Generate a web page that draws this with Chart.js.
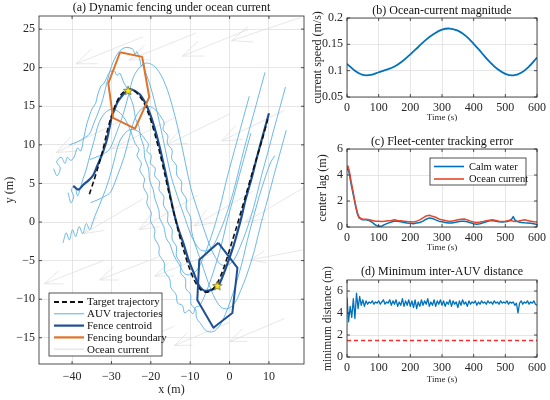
<!DOCTYPE html>
<html>
<head>
<meta charset="utf-8">
<script src="https://cdn.jsdelivr.net/npm/chart.js@4.4.1/dist/chart.umd.min.js"></script>
<style>
  html, body { margin: 0; padding: 0; background: #fff; }
  #wrap { position: relative; width: 550px; height: 400px; overflow: hidden; background: #fff; }
  canvas { position: absolute; }
</style>
</head>
<body>
<div id="wrap">
  <canvas id="chartA" width="310" height="400" style="left:0px;top:0px"></canvas>
  <canvas id="chartB" width="255" height="130" style="left:295px;top:0px"></canvas>
  <canvas id="chartC" width="255" height="130" style="left:295px;top:130px"></canvas>
  <canvas id="chartD" width="255" height="140" style="left:295px;top:260px"></canvas>
</div>
<script>
// ---------- (a) trajectories (x, y in metres) ----------
const targetPath = [
  [-35.6,3.6],[-34.5,5.3],[-33.3,7.3],[-32.2,9.3],[-31.2,11.5],[-30.2,13.4],[-29.2,14.9],[-28.0,16.2],
  [-26.8,16.9],[-25.6,17.2],[-24.3,17.0],[-23.0,16.4],[-21.8,15.5],[-20.7,14.2],[-19.7,12.7],[-18.7,10.9],
  [-17.6,8.7],[-16.5,6.3],[-15.4,3.8],[-14.2,1.3],[-13.0,-1.2],[-11.7,-3.6],[-10.4,-5.7],[-9.0,-7.5],
  [-7.5,-8.7],[-6.0,-9.1],[-4.5,-8.8],[-3.1,-7.9],[-1.8,-6.4],[-0.6,-4.6],[0.6,-2.6],[1.8,-0.6],
  [3.0,1.5],[4.3,3.8],[5.6,6.1],[7.0,8.5],[8.4,10.9],[9.7,13.3]
];
const fenceCentroid = [
  [-39.7,4.7],[-38.4,4.2],[-37.2,4.8],[-35.8,5.4],[-34.6,6.1],[-33.6,7.3],[-32.9,8.1],[-32.0,9.3],
  [-31.2,10.6],[-30.5,12.2],[-29.9,13.7],[-29.2,14.6],[-28.6,15.4],[-27.7,16.1],[-26.9,16.6],[-26.0,17.0],
  [-25.2,17.2],[-24.0,17.0],[-22.7,16.5],[-21.8,15.8],[-21.0,15.0],[-20.2,14.0],[-19.4,12.8],[-18.6,11.4],
  [-17.7,9.6],[-16.8,7.6],[-15.9,5.5],[-15.0,3.2],[-14.0,0.9],[-13.0,-0.9],[-11.7,-2.8],[-10.5,-4.8],
  [-9.1,-6.6],[-8.2,-7.8],[-7.4,-8.5],[-6.4,-8.9],[-5.4,-8.9],[-4.2,-8.7],[-2.8,-8.2],[-1.5,-6.7],
  [-0.2,-4.9],[1.0,-3.1],[1.9,-1.5],[3.0,0.6],[4.0,2.8],[5.5,5.5],[7.0,8.5],[8.5,11.3],[10.0,14.1]
];
const auvTop = [
  [-40.7,10.0],[-38.6,10.4],[-36.9,10.9],[-35.6,11.4],[-34.4,12.9],[-33.2,14.4],[-32.2,15.9],[-31.0,18.4],
  [-29.6,20.7],[-28.0,22.1],[-26.5,22.6],[-24.6,22.4],[-24.0,21.6],[-23.6,22.1],[-22.8,21.1],[-22.4,20.2],
  [-21.8,20.5],[-21.4,19.5],[-20.4,18.1],[-19.1,15.7],[-17.8,12.9],[-16.4,9.6],[-15.0,6.2],[-13.8,4.2],
  [-12.7,2.5],[-11.4,0.6],[-10.1,-1.3],[-8.8,-2.7],[-7.4,-3.6],[-5.8,-3.7],[-4.1,-3.0],[-2.6,-1.4],
  [-1.2,0.4],[-0.1,2.1],[0.9,3.8],[2.0,6.0],[3.0,8.1],[4.5,11.0],[6.0,13.8],[7.5,16.6],[9.0,19.4]
];
const auvUpperRight = [
  [-35.5,8.1],[-33.4,8.5],[-31.8,8.9],[-30.4,9.5],[-28.7,11.6],[-27.0,14.0],[-25.6,16.6],[-24.4,18.8],
  [-22.9,20.0],[-21.3,20.6],[-19.4,20.3],[-17.6,19.2],[-16.3,17.8],[-15.2,16.2],[-13.9,13.8],[-12.6,11.0],
  [-11.2,7.6],[-9.8,4.3],[-8.6,2.3],[-7.5,0.6],[-6.2,-1.4],[-4.9,-3.2],[-3.6,-4.6],[-2.2,-5.5],
  [-0.5,-5.6],[1.1,-4.9],[2.6,-3.3],[4.0,-1.5],[5.1,0.2],[6.1,1.9],[7.1,3.9],[8.2,6.2],
  [9.7,9.0],[11.2,11.9],[12.7,14.7],[14.2,17.5]
];
const auvLowerRight = [
  [-35.3,2.5],[-33.4,2.9],[-31.8,3.3],[-30.2,3.9],[-28.5,6.0],[-26.8,8.4],[-25.5,10.9],[-24.2,13.2],
  [-22.7,14.5],[-21.1,15.0],[-19.2,14.7],[-17.4,13.6],[-16.6,12.8],[-16.9,12.0],[-15.7,11.2],[-15.8,10.2],
  [-14.6,9.3],[-14.7,8.2],[-13.5,7.3],[-13.4,6.1],[-12.2,5.2],[-12.2,4.0],[-11.0,3.0],[-11.0,1.8],
  [-9.9,0.6],[-9.6,-1.3],[-8.5,-3.3],[-7.3,-5.0],[-6.0,-7.0],[-4.7,-8.8],[-3.4,-10.2],[-2.0,-11.1],
  [-0.4,-11.2],[1.3,-10.5],[2.8,-8.9],[4.2,-7.1],[5.3,-5.4],[6.3,-3.7],[7.3,-1.6],[8.4,0.6],
  [9.9,3.4],[11.4,6.3],[12.9,9.1],[14.4,11.9]
];
const auvBottom = [
  [-42.3,-2.7],[-41.5,-1.4],[-40.7,-2.3],[-39.9,-1.0],[-39.1,-1.9],[-38.2,-0.6],[-37.3,-1.5],[-36.4,-0.2],
  [-35.5,-1.0],[-34.6,0.2],[-34.1,0.9],[-32.4,3.0],[-30.7,5.4],[-29.4,7.8],[-28.1,10.2],[-26.6,11.5],
  [-25.0,12.0],[-23.1,11.7],[-21.3,10.6],[-20.6,10.0],[-21.0,9.2],[-19.9,8.6],[-20.1,7.6],[-18.9,7.0],
  [-19.0,6.0],[-17.8,5.2],[-17.9,4.2],[-16.7,3.3],[-16.8,2.2],[-15.7,1.2],[-15.7,0.0],[-14.6,-1.0],
  [-14.6,-2.2],[-13.5,-3.2],[-13.5,-4.4],[-12.4,-5.4],[-12.4,-6.6],[-11.2,-7.4],[-11.1,-8.6],[-9.9,-9.4],
  [-9.8,-10.6],[-8.6,-11.4],[-8.4,-12.4],[-7.3,-13.2],[-5.9,-14.1],[-4.2,-14.2],
  [-2.6,-13.5],[-1.1,-12.0],[0.3,-10.1],[1.4,-8.4],[2.4,-6.7],[3.5,-4.6],[4.5,-2.4],[6.0,0.5],
  [7.5,3.3],[9.0,5.7],[10.5,7.8],[11.5,8.6]
];
const auvLowerLeft = [
  [-41.0,3.8],[-40.3,2.5],[-39.6,3.3],[-40.2,4.2],[-39.3,4.6],[-38.6,3.4],[-38.0,4.2],[-37.2,5.6],
  [-36.4,6.8],[-35.8,8.0],[-34.5,10.4],[-33.2,12.8],[-31.7,14.1],[-30.1,14.6],[-28.2,14.3],[-26.4,13.2],
  [-25.2,11.9],[-24.0,10.2],[-23.0,9.4],[-23.5,8.6],[-22.4,7.6],[-22.8,6.7],[-21.6,5.6],[-21.9,4.6],
  [-20.8,3.4],[-21.0,2.4],[-19.9,1.2],[-20.1,0.2],[-19.0,-1.0],[-19.1,-2.0],[-17.9,-3.2],[-17.9,-4.2],
  [-16.6,-5.3],[-16.5,-6.4],[-15.2,-7.4],[-14.9,-8.5],[-13.6,-9.4],[-13.2,-10.5],[-12.0,-10.8],[-11.4,-11.8],
  [-10.3,-11.4],[-9.3,-11.9],[-8.6,-11.0],[-7.7,-10.9],[-6.2,-9.4],[-4.8,-7.5],[-3.7,-5.8],[-2.7,-4.1],
  [-1.6,-2.0],[-0.6,0.2],[0.9,3.0],[2.4,5.9],[3.9,8.7],[5.4,11.5]
];
const auvUpperLeft = [
  [-44.7,6.9],[-43.8,6.0],[-43.0,7.0],[-43.9,7.8],[-42.8,8.4],[-41.8,7.6],[-41.2,8.4],[-40.4,8.0],
  [-39.6,8.3],[-38.6,9.6],[-37.8,9.2],[-37.0,11.0],[-36.2,12.8],[-35.5,13.9],[-34.9,14.7],[-34.0,15.4],
  [-33.6,16.3],[-32.7,17.6],[-32.0,17.9],[-31.2,18.7],[-30.5,19.4],[-29.3,19.6],[-28.6,19.0],[-27.9,19.3],
  [-26.8,18.0],[-26.0,17.3],[-25.4,16.4],[-24.4,15.0],[-23.9,13.4],[-23.0,12.4],[-22.6,11.0],[-21.8,9.8],
  [-21.5,8.2],[-20.6,7.0],[-20.3,5.4],[-19.4,4.2],[-19.0,3.1],[-18.0,1.6],[-17.7,0.4],[-16.7,-0.6],
  [-16.1,-2.1],[-15.1,-2.9],[-14.1,-4.4],[-12.9,-5.4],[-11.4,-6.7],[-9.8,-6.8],[-8.1,-6.1],[-6.6,-4.5],
  [-5.2,-2.7],[-4.1,-1.0],[-3.1,0.7],[-2.0,2.8],[-1.0,5.0],[0.5,7.9],[2.0,10.7],[3.5,13.5],[5.0,16.3]
];
const auvTracks = [auvTop, auvUpperRight, auvLowerRight, auvBottom, auvLowerLeft, auvUpperLeft];

// fence snapshots (hexagon vertices) and fleet centre markers
const fenceEarly = [[-27.8,22.0],[-22.2,21.4],[-20.4,16.2],[-24.0,12.1],[-29.6,13.5],[-30.8,18.0]];
const fenceLate = [[-2.85,-2.7],[2.0,-5.95],[0.7,-11.8],[-4.1,-13.7],[-8.2,-10.1],[-7.7,-4.9]];
const centreMarks = [[-25.75,17.0],[-3.1,-8.3]];

// ocean current quiver: tail x, tail y, u, v
const currentArrows = [
  [-22,24,-17,-3.5],[-8.5,24.5,-17,-3.5],[5,25,-17,-3.5],[18,26.5,-17.5,-3],
  [-28,13,-16,-4],[-14,13.5,-16,-4],[0,14,-16,-4],[14,14.5,-16,-4],
  [-22,3,-15,-4.5],[-8,3.5,-15,-4.5],[6,4,-15,-4.5],[19,4.5,-15,-4.5],
  [-32,-5,-15,-3],[-18,-4.5,-15,-3],[-4,-4,-15,-3],[18.8,-3.6,-13.5,-1.3],
  [-28,-14,-14,-3],[-14,-13.5,-14,-3],[0,-13,-14,-3],[14,-12.5,-14,-3]
];
const xTicksA = [-40, -30, -20, -10, 0, 10];
const yTicksA = [-15, -10, -5, 0, 5, 10, 15, 20, 25];

// ---------- (b) current magnitude ----------
const timeB = [0,25,50,75,100,125,150,175,200,225,250,275,300,325,350,375,400,425,450,475,500,525,550,575,600];
const currentSpeed = [0.113,0.100,0.092,0.092,0.097,0.102,0.108,0.118,0.131,0.145,0.159,0.170,0.178,0.180,0.176,
  0.166,0.151,0.134,0.117,0.103,0.094,0.091,0.096,0.108,0.125];

// ---------- (c) centre lag ----------
const timeC = [0,3,8,13,18,23,28,33,38,45,50,60,70,80,90,100,110,120,130,140,150,160,170,180,190,200,
  210,220,230,240,250,260,270,280,290,300,310,320,330,340,350,360,370,380,390,400,410,420,430,440,
  450,460,470,480,490,500,510,520,525,530,540,550,560,570,580,590,600];
const lagCalm = [4.4,4.6,4.0,3.3,2.7,2.1,1.5,1.0,0.7,0.6,0.55,0.55,0.5,0.35,0.15,0.05,0.08,0.2,0.3,0.38,
  0.45,0.45,0.4,0.35,0.3,0.28,0.25,0.3,0.35,0.45,0.6,0.7,0.65,0.55,0.45,0.4,0.35,0.3,0.3,0.35,
  0.4,0.45,0.45,0.4,0.32,0.25,0.22,0.25,0.32,0.4,0.48,0.5,0.45,0.4,0.38,0.4,0.45,0.6,0.8,0.55,
  0.4,0.35,0.32,0.3,0.28,0.25,0.2];
const lagCurrent = [4.5,4.7,4.2,3.5,2.9,2.2,1.6,1.1,0.75,0.65,0.6,0.6,0.55,0.5,0.45,0.45,0.42,0.45,0.48,0.5,
  0.55,0.5,0.48,0.45,0.42,0.4,0.38,0.45,0.55,0.7,0.85,0.9,0.82,0.75,0.62,0.55,0.5,0.45,0.45,0.5,
  0.55,0.6,0.62,0.55,0.45,0.38,0.35,0.38,0.42,0.48,0.52,0.55,0.5,0.45,0.42,0.45,0.5,0.48,0.45,0.42,
  0.45,0.5,0.55,0.5,0.45,0.4,0.38];

// ---------- (d) minimum inter-AUV distance ----------
const timeD = [0,5,10,15,20,25,30,35,40,45,50,55,60,65,70,75,80,85,90,95,100,105,110,115,120,125,130,135,
  140,145,150,155,160,165,170,175,180,185,190,195,200,205,210,215,220,225,230,235,240,245,250,255,260,265,
  270,275,280,285,290,295,300,305,310,315,320,325,330,335,340,345,350,355,360,365,370,375,380,385,390,395,
  400,405,410,415,420,425,430,435,440,445,450,455,460,465,470,475,480,485,490,495,500,505,510,515,520,525,
  530,535,540,545,550,555,560,565,570,575,580,585,590,595,600];
const minDistance = [5.4,3.2,4.6,3.6,5.3,3.5,5.8,4.4,5.5,4.7,5.2,4.6,5.1,4.8,5.0,4.9,5.1,4.8,5.0,4.9,
  5.1,4.8,5.0,5.2,4.8,5.0,4.9,5.2,4.7,5.1,4.8,5.2,4.6,5.0,4.7,5.3,4.6,5.1,4.7,5.2,
  4.6,5.1,4.5,5.2,4.4,5.0,4.6,5.2,4.7,5.1,4.8,5.3,4.6,5.0,4.7,5.2,4.6,5.1,4.8,5.2,
  4.7,5.1,4.6,5.0,4.8,5.2,4.6,5.1,4.8,5.0,4.5,5.1,4.7,5.2,4.8,5.0,4.6,5.1,4.8,5.0,
  4.9,5.1,4.7,5.0,4.8,5.1,4.9,5.0,4.8,5.1,4.9,5.0,4.8,5.1,4.9,5.0,4.8,5.1,4.9,5.0,
  4.9,5.1,4.8,5.0,4.9,5.0,4.7,4.9,4.0,4.9,5.1,4.8,5.0,4.9,5.1,4.8,5.0,4.9,5.1,4.8,4.7];
const safetyDistance = 1.5;
const timeSpan = [0, 600];

// ---------- styling ----------
const SERIF = '"Liberation Serif", "Times New Roman", serif';
const INK = '#262626';
const AUV_BLUE = '#5cb0e2';
const NAVY = '#1c4f94';
const ORANGE = '#e07328';
const QUIVER = '#dcdcdc';
const MAT_BLUE = '#0072BD';
const MAT_RED = '#e4472b';

Chart.defaults.font.family = SERIF;
Chart.defaults.color = INK;

const pts = arr => arr.map(([x, y]) => ({ x, y }));
const series = (ts, vs) => ts.map((t, i) => ({ x: t, y: vs[i] }));
const ring = arr => arr.concat([arr[0]]);
const minus = v => String(v).replace('-', '\u2212');

// yellow pentagram for the fleet centre
function makeStar(r) {
  const c = document.createElement('canvas');
  c.width = c.height = 2 * r + 2;
  const g = c.getContext('2d');
  g.beginPath();
  for (let k = 0; k < 10; k++) {
    const rad = k % 2 ? r * 0.42 : r;
    const ang = -Math.PI / 2 + k * Math.PI / 5;
    g.lineTo(r + 1 + rad * Math.cos(ang), r + 1 + rad * Math.sin(ang));
  }
  g.closePath();
  g.fillStyle = '#ffe81a';
  g.fill();
  g.strokeStyle = '#5c5a30';
  g.lineWidth = 0.7;
  g.stroke();
  return c;
}

function axisOpts(o) {
  return {
    type: 'linear',
    min: o.min,
    max: o.max,
    afterBuildTicks: s => { s.ticks = o.ticks.map(v => ({ value: v })); },
    afterFit: s => { if (o.horizontal) s.height = o.fit; else s.width = o.fit; },
    grid: { color: '#e0e0e0', lineWidth: 0.8, drawTicks: false },
    border: { display: false },
    ticks: { padding: o.pad, maxRotation: 0, autoSkip: false, font: { size: 12 }, color: INK, callback: v => minus(v) },
    title: { display: true, text: o.title, color: INK, font: { size: o.titleSize || 12 }, padding: o.titlePad }
  };
}

function drawQuiver(chart, arrows) {
  const { ctx, chartArea: a, scales: { x, y } } = chart;
  ctx.save();
  ctx.beginPath();
  ctx.rect(a.left, a.top, a.width, a.height);
  ctx.clip();
  ctx.strokeStyle = QUIVER;
  ctx.lineWidth = 0.7;
  arrows.forEach(([x0, y0, u, v]) => {
    const tx = x.getPixelForValue(x0), ty = y.getPixelForValue(y0);
    const hx = x.getPixelForValue(x0 + u), hy = y.getPixelForValue(y0 + v);
    const ang = Math.atan2(hy - ty, hx - tx);
    const len = Math.hypot(hx - tx, hy - ty) * 0.3;
    ctx.beginPath();
    ctx.moveTo(tx, ty);
    ctx.lineTo(hx, hy);
    ctx.moveTo(hx - len * Math.cos(ang - 0.38), hy - len * Math.sin(ang - 0.38));
    ctx.lineTo(hx, hy);
    ctx.lineTo(hx - len * Math.cos(ang + 0.38), hy - len * Math.sin(ang + 0.38));
    ctx.stroke();
  });
  ctx.restore();
}

function drawLegend(ctx, a, L) {
  const x = L.anchor === 'tr' ? a.right - L.dx - L.w : a.left + L.dx;
  const y = L.anchor === 'tr' ? a.top + L.dy : a.bottom - L.dy - L.h;
  ctx.fillStyle = '#fff';
  ctx.fillRect(x, y, L.w, L.h);
  ctx.strokeStyle = INK;
  ctx.lineWidth = 0.8;
  ctx.strokeRect(x, y, L.w, L.h);
  ctx.font = L.font;
  ctx.textAlign = 'left';
  ctx.textBaseline = 'middle';
  L.items.forEach((it, i) => {
    const cy = y + L.first + i * L.row;
    ctx.beginPath();
    ctx.setLineDash(it.dash || []);
    ctx.strokeStyle = it.color;
    ctx.lineWidth = it.width;
    ctx.moveTo(x + L.s0, cy);
    ctx.lineTo(x + L.s1, cy);
    ctx.stroke();
    ctx.setLineDash([]);
    ctx.fillStyle = '#111';
    ctx.fillText(it.label, x + L.tx, cy + 0.5);
  });
}

// box, inward ticks, panel title, in-axes legend (matlab look)
function frame(cfg) {
  return {
    id: 'frame',
    beforeDatasetsDraw(chart) {
      if (cfg.arrows) drawQuiver(chart, cfg.arrows);
    },
    afterDraw(chart) {
      const { ctx, chartArea: a, scales: { x, y } } = chart;
      ctx.save();
      ctx.strokeStyle = INK;
      ctx.lineWidth = 0.8;
      ctx.strokeRect(a.left, a.top, a.width, a.height);
      ctx.beginPath();
      x.ticks.forEach(t => {
        const px = x.getPixelForValue(t.value);
        ctx.moveTo(px, a.bottom); ctx.lineTo(px, a.bottom - 3);
        ctx.moveTo(px, a.top); ctx.lineTo(px, a.top + 3);
      });
      y.ticks.forEach(t => {
        const py = y.getPixelForValue(t.value);
        ctx.moveTo(a.left, py); ctx.lineTo(a.left + 3, py);
        ctx.moveTo(a.right, py); ctx.lineTo(a.right - 3, py);
      });
      ctx.stroke();
      ctx.fillStyle = '#111';
      ctx.font = '12px ' + SERIF;
      ctx.textAlign = 'center';
      ctx.textBaseline = 'middle';
      ctx.fillText(cfg.title, (a.left + a.right) / 2, a.top - cfg.titleGap);
      if (cfg.legend) drawLegend(ctx, a, cfg.legend);
      ctx.restore();
    }
  };
}

const baseOptions = {
  responsive: false,
  animation: false,
  events: [],
  plugins: { legend: { display: false }, tooltip: { enabled: false } },
  elements: { point: { radius: 0 }, line: { borderJoinStyle: 'round' } }
};

// ---------- (a) ----------
const auvSets = auvTracks.map(tr => ({
  data: pts(tr), showLine: true, borderColor: AUV_BLUE, borderWidth: 0.9, tension: 0.35, order: 10
}));

new Chart(document.getElementById('chartA'), {
  type: 'scatter',
  data: {
    datasets: auvSets.concat([
      { data: pts(fenceCentroid), showLine: true, borderColor: NAVY, borderWidth: 2.2, tension: 0.3, order: 6 },
      { data: pts(targetPath), showLine: true, borderColor: '#111', borderWidth: 1.6, borderDash: [5, 3], tension: 0.3, order: 5 },
      { data: pts(ring(fenceEarly)), showLine: true, borderColor: ORANGE, borderWidth: 2, order: 4 },
      { data: pts(ring(fenceLate)), showLine: true, borderColor: NAVY, borderWidth: 2, order: 4 },
      { data: pts(centreMarks), showLine: false, pointStyle: makeStar(5), pointRadius: 5, order: 1 }
    ])
  },
  options: Object.assign({}, baseOptions, {
    layout: { padding: { top: 16, right: 5, left: 0, bottom: 0 } },
    scales: {
      x: axisOpts({ min: -48.4, max: 18.9, ticks: xTicksA, horizontal: true, fit: 36, pad: 6,
        title: 'x (m)', titlePad: { top: 0, bottom: 3 } }),
      y: axisOpts({ min: -18.4, max: 26.7, ticks: yTicksA, fit: 39, pad: 4,
        title: 'y (m)', titlePad: { top: 3, bottom: 0 } })
    }
  }),
  plugins: [frame({
    title: '(a) Dynamic fencing under ocean current',
    titleGap: 8,
    arrows: currentArrows,
    legend: {
      anchor: 'bl', dx: 10, dy: 8, w: 113, h: 63, first: 9, row: 11.8, s0: 5, s1: 35, tx: 38,
      font: '11px ' + SERIF,
      items: [
        { label: 'Target trajectory', color: '#111', width: 1.8, dash: [5, 3] },
        { label: 'AUV trajectories', color: AUV_BLUE, width: 1 },
        { label: 'Fence centroid', color: NAVY, width: 2.2 },
        { label: 'Fencing boundary', color: ORANGE, width: 2.2 },
        { label: 'Ocean current', color: QUIVER, width: 1 }
      ]
    }
  })]
});

// ---------- small panels ----------
function timeAxis(height, titlePad) {
  return axisOpts({ min: 0, max: 600, ticks: [0, 100, 200, 300, 400, 500, 600], horizontal: true, fit: height,
    pad: 4, title: 'Time (s)', titleSize: 9, titlePad: { top: 0, bottom: titlePad } });
}

new Chart(document.getElementById('chartB'), {
  type: 'scatter',
  data: { datasets: [
    { data: series(timeB, currentSpeed), showLine: true, borderColor: MAT_BLUE, borderWidth: 1.8, tension: 0.4 }
  ] },
  options: Object.assign({}, baseOptions, {
    layout: { padding: { top: 18, right: 10, left: 0, bottom: 0 } },
    scales: {
      x: timeAxis(33, 6.6),
      y: axisOpts({ min: 0.05, max: 0.2, ticks: [0.05, 0.1, 0.15, 0.2], fit: 52, pad: 4,
        title: 'current speed (m/s)', titlePad: { top: 15.8, bottom: 0 } })
    }
  }),
  plugins: [frame({ title: '(b) Ocean-current magnitude', titleGap: 7 })]
});

new Chart(document.getElementById('chartC'), {
  type: 'scatter',
  data: { datasets: [
    { data: series(timeC, lagCalm), showLine: true, borderColor: MAT_BLUE, borderWidth: 1.5, order: 2 },
    { data: series(timeC, lagCurrent), showLine: true, borderColor: MAT_RED, borderWidth: 1.5, order: 1 }
  ] },
  options: Object.assign({}, baseOptions, {
    layout: { padding: { top: 19, right: 10, left: 0, bottom: 0 } },
    scales: {
      x: timeAxis(33, 6.6),
      y: axisOpts({ min: 0, max: 6, ticks: [0, 2, 4, 6], fit: 52, pad: 4,
        title: 'center lag (m)', titlePad: { top: 21, bottom: 0 } })
    }
  }),
  plugins: [frame({
    title: '(c) Fleet-center tracking error',
    titleGap: 7,
    legend: {
      anchor: 'tr', dx: 11, dy: 9, w: 96, h: 27, first: 8.5, row: 12.5, s0: 4, s1: 34, tx: 39,
      font: '10.5px ' + SERIF,
      items: [
        { label: 'Calm water', color: MAT_BLUE, width: 1.6 },
        { label: 'Ocean current', color: MAT_RED, width: 1.6 }
      ]
    }
  })]
});

new Chart(document.getElementById('chartD'), {
  type: 'scatter',
  data: { datasets: [
    { data: series(timeD, minDistance), showLine: true, borderColor: MAT_BLUE, borderWidth: 1.3, order: 2 },
    { data: timeSpan.map(t => ({ x: t, y: safetyDistance })), showLine: true, borderColor: '#ff2a2a',
      borderWidth: 1.5, borderDash: [4, 3], order: 1 }
  ] },
  options: Object.assign({}, baseOptions, {
    layout: { padding: { top: 20, right: 10, left: 0, bottom: 0 } },
    scales: {
      x: timeAxis(43, 14.6),
      y: axisOpts({ min: 0, max: 7, ticks: [0, 2, 4, 6], fit: 52, pad: 4,
        title: 'minimum distance (m)', titleSize: 11.5, titlePad: { top: 26, bottom: 0 } })
    }
  }),
  plugins: [frame({ title: '(d) Minimum inter-AUV distance', titleGap: 8 })]
});
</script>
</body>
</html>
